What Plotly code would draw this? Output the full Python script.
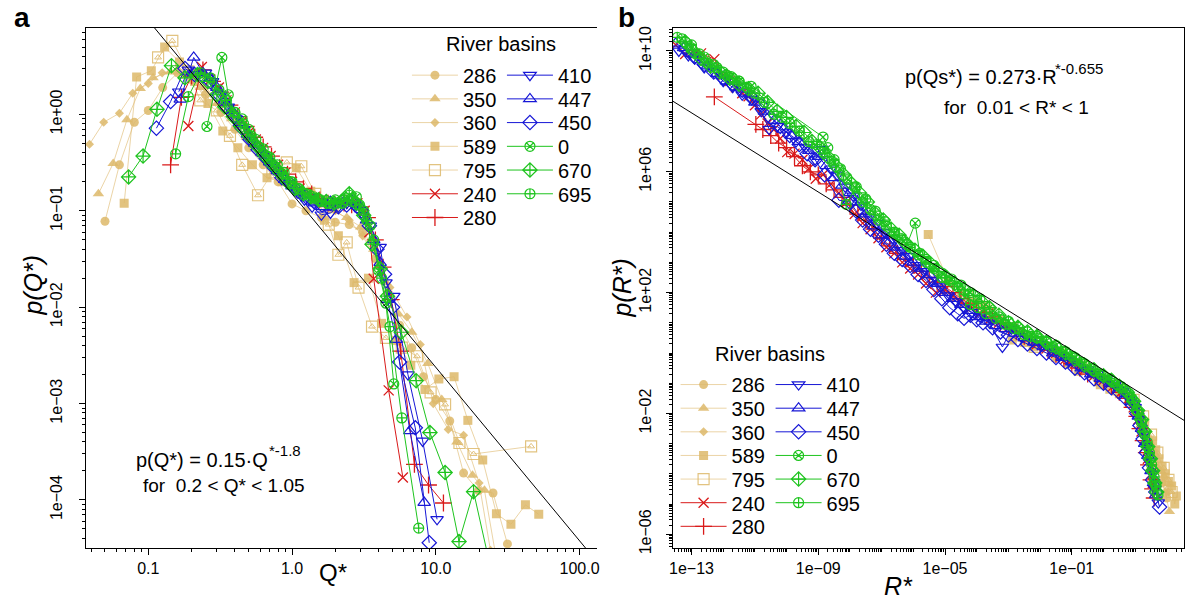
import plotly.graph_objects as go

W, H = 1188, 612
FONT = "Liberation Sans, Arial, Helvetica, sans-serif"

# ---------------- Panel a : p(Q*) vs Q* ----------------
a_Q_286 = [0.05,0.063,0.08,0.10,0.126,0.16,0.2,0.25,0.32,0.4,0.5,0.63,0.8,1.0,1.25,1.6,2.0,2.5,3.1,3.8,4.6,5.6,6.8,8.2,10.0,12.5,15.6,19.8,25.0,31.5]
a_p_286 = [0.078,0.30,0.83,1.1,1.9,2.7,2.3,1.6,1.05,0.7,0.45,0.3,0.2,0.118,0.1,0.085,0.076,0.072,0.06,0.032,0.014,0.0065,0.0038,0.0019,0.0011,0.00066,0.00019,0.000125,0.000118,0.000035]
a_Q_350 = [0.045,0.057,0.071,0.088,0.108,0.142,0.18,0.23,0.3,0.38,0.48,0.6,0.76,0.95,1.2,1.5,1.9,2.4,3.0,3.7,4.5,5.5,6.8,8.8,11.0,14.0,18.0,21.8,27.0]
a_p_350 = [0.15,0.31,0.88,1.86,2.4,2.76,2.5,1.9,1.3,0.9,0.58,0.4,0.27,0.2,0.15,0.12,0.1,0.085,0.068,0.04,0.018,0.0085,0.0055,0.0026,0.0011,0.0004,0.00018,0.000126,0.00002]
a_Q_360 = [0.039,0.049,0.063,0.078,0.1,0.125,0.16,0.2,0.25,0.32,0.4,0.5,0.63,0.8,1.0,1.25,1.6,2.0,2.5,3.1,3.9,4.8,6.3,7.8,9.6,12.2,15.6,20.0,24.0]
a_p_360 = [0.49,0.83,1.03,1.66,2.1,2.7,2.9,2.6,1.9,1.3,0.85,0.55,0.38,0.26,0.18,0.15,0.12,0.1,0.08,0.055,0.03,0.016,0.0079,0.0041,0.001,0.00054,0.00047,0.00015,0.00003]
a_Q_589 = [0.068,0.083,0.105,0.13,0.165,0.21,0.26,0.33,0.42,0.53,0.67,0.85,1.07,1.35,1.68,2.1,2.7,3.4,4.2,5.3,6.7,8.4,10.5,13.4,16.7,21.2,26.4,33.3,42.0,52.0]
a_p_589 = [0.12,2.45,2.84,5.0,3.5,2.2,1.3,0.675,0.45,0.30,0.22,0.2,0.28,0.16,0.08,0.055,0.018,0.020,0.0068,0.0045,0.0025,0.0014,0.0018,0.0019,0.00067,0.00026,0.000072,0.000056,0.000089,0.000071]
a_Q_795 = [0.117,0.147,0.19,0.23,0.3,0.37,0.45,0.58,0.73,0.92,1.16,1.45,1.8,2.1,2.4,2.9,3.6,4.5,5.8,7.4,9.2,11.6,14.6,18.3,46.0]
a_p_795 = [3.9,5.8,2.8,1.4,1.1,0.6,0.30,0.145,0.25,0.318,0.29,0.15,0.072,0.035,0.047,0.016,0.0063,0.0048,0.0038,0.0031,0.00131,0.00098,0.00039,0.00030,0.00036]
a_Q_240 = [0.19,0.236,0.27,0.31,0.35,0.4,0.45,0.5,0.56,0.63,0.71,0.8,0.9,1.0,1.13,1.27,1.43,1.6,1.8,2.0,2.25,2.55,2.85,3.2,3.45,3.7,4.7,5.9]
a_p_240 = [0.76,3.1,2.3,1.9,1.4,1.05,0.85,0.65,0.55,0.45,0.37,0.30,0.25,0.2,0.17,0.15,0.13,0.13,0.12,0.125,0.12,0.13,0.12,0.1,0.06,0.0197,0.00137,0.000171]
a_Q_280 = [0.143,0.17,0.2,0.24,0.28,0.32,0.37,0.42,0.48,0.55,0.63,0.72,0.82,0.93,1.06,1.2,1.37,1.56,1.78,2.0,2.3,2.6,2.95,3.35,3.8,4.3,4.9,5.7,7.1,8.9,11.3]
a_p_280 = [0.30,1.5,2.5,2.9,2.2,1.7,1.25,0.95,0.75,0.58,0.46,0.37,0.28,0.24,0.2,0.17,0.15,0.13,0.12,0.115,0.12,0.115,0.11,0.085,0.05,0.026,0.012,0.0035,0.000234,0.000143,0.000093]
a_Q_410 = [0.163,0.19,0.22,0.25,0.28,0.32,0.36,0.41,0.46,0.52,0.59,0.66,0.75,0.85,0.96,1.08,1.22,1.38,1.6,1.85,2.1,2.4,2.75,3.1,3.5,4.1,4.5,5.1,6.4,8.1,10.2]
a_p_410 = [1.72,2.9,2.6,2.7,2.2,1.6,1.2,0.9,0.7,0.52,0.42,0.33,0.27,0.22,0.19,0.16,0.13,0.11,0.091,0.095,0.11,0.12,0.11,0.09,0.07,0.042,0.018,0.013,0.002,0.00041,0.000063]
a_Q_447 = [0.167,0.207,0.24,0.27,0.3,0.34,0.38,0.43,0.49,0.55,0.62,0.7,0.79,0.89,1.0,1.13,1.27,1.43,1.62,1.83,2.05,2.3,2.6,2.9,3.3,3.7,4.1,4.6,5.3,6.6,8.3]
a_p_447 = [1.43,3.9,2.7,2.4,1.9,1.4,1.1,0.82,0.62,0.5,0.4,0.32,0.26,0.21,0.18,0.155,0.135,0.12,0.11,0.12,0.115,0.125,0.13,0.115,0.08,0.05,0.029,0.012,0.0046,0.00052,0.000094]
a_Q_450 = [0.114,0.143,0.18,0.21,0.24,0.27,0.31,0.35,0.4,0.45,0.51,0.58,0.66,0.75,0.85,0.97,1.1,1.25,1.42,1.62,1.85,2.1,2.4,2.7,3.05,3.45,3.9,4.4,5.0,5.6,7.2,9.0]
a_p_450 = [0.72,1.36,2.99,2.6,2.5,2.2,1.6,1.2,0.95,0.72,0.55,0.43,0.35,0.28,0.22,0.19,0.16,0.14,0.125,0.115,0.12,0.11,0.115,0.12,0.1,0.07,0.04,0.022,0.01,0.0027,0.00056,0.000036]
a_Q_0 = [0.256,0.325,0.36,0.4,0.45,0.5,0.56,0.63,0.7,0.79,0.88,1.0,1.12,1.26,1.41,1.58,1.78,2.0,2.25,2.5,2.8,3.15,3.5,4.0,4.5,5.1]
a_p_0 = [0.75,3.9,1.6,1.05,0.9,0.7,0.55,0.44,0.36,0.3,0.25,0.2,0.17,0.15,0.14,0.13,0.12,0.13,0.12,0.145,0.14,0.1,0.07,0.024,0.011,0.0016]
a_Q_670 = [0.073,0.092,0.115,0.145,0.18,0.22,0.26,0.3,0.34,0.39,0.44,0.5,0.57,0.64,0.72,0.82,0.93,1.05,1.2,1.35,1.53,1.73,1.96,2.2,2.5,2.8,3.15,3.6,4.1,4.6,5.75,7.3,9.1,11.6,14.5,18.3,24.0]
a_p_670 = [0.225,0.37,1.13,3.2,2.4,2.6,2.2,1.6,1.2,0.95,0.75,0.6,0.47,0.38,0.31,0.25,0.2,0.17,0.15,0.14,0.13,0.125,0.12,0.125,0.15,0.12,0.09,0.045,0.025,0.013,0.0055,0.00173,0.0005,0.000193,0.000037,0.000122,0.00002]
a_Q_695 = [0.155,0.19,0.23,0.27,0.31,0.35,0.4,0.46,0.52,0.59,0.67,0.76,0.86,0.98,1.1,1.25,1.42,1.6,1.8,2.05,2.3,2.6,2.95,3.3,3.7,4.2,4.8,5.8,7.6]
a_p_695 = [0.39,1.53,2.7,2.4,1.8,1.4,1.05,0.8,0.6,0.46,0.37,0.29,0.24,0.2,0.17,0.15,0.135,0.125,0.12,0.12,0.13,0.125,0.115,0.08,0.05,0.02,0.0063,0.00071,0.000051]

# ---------------- Panel b : p(R*) vs R*  (values read as log10 exponents) ----------------
b_log10R_286 = [-4.5,-3.8,-3.0,-2.3,-1.6,-0.9,-0.2,0.4,0.9,1.2,1.45,1.65,1.85,2.0]
b_log10p_286 = [2.0,1.6,0.9,0.45,0.05,-0.35,-0.85,-1.15,-1.6,-2.2,-3.0,-3.8,-4.3,-4.8]
b_log10R_350 = [-3.6,-2.8,-2.0,-1.3,-0.6,0.0,0.6,1.0,1.3,1.55,1.8,1.95,2.08]
b_log10p_350 = [1.5,0.8,0.3,-0.1,-0.6,-0.9,-1.3,-1.8,-2.5,-3.2,-3.9,-4.6,-5.25]
b_log10R_360 = [-4.0,-3.2,-2.5,-1.8,-1.1,-0.4,0.2,0.75,1.1,1.4,1.65,1.9,2.05]
b_log10p_360 = [1.7,1.1,0.6,0.25,-0.25,-0.7,-1.0,-1.4,-1.9,-2.6,-3.4,-4.1,-4.6]
b_log10R_589 = [-5.53,-4.9,-4.2,-3.5,-2.88,-2.5,-2.2,-1.5,-1.1,-0.8,-0.1,0.2,0.5,0.8,1.0,1.15,1.3,1.55,1.65,1.75,1.85,1.95,2.05,2.15,2.25,2.3]
b_log10p_589 = [3.92,2.4,1.7,1.1,0.43,0.35,0.2,-0.15,-0.35,-0.6,-1.05,-1.2,-1.35,-1.55,-1.75,-2.0,-2.3,-2.9,-3.2,-3.5,-3.75,-4.0,-4.25,-4.4,-5.0,-4.73]
b_log10R_795 = [-4.3,-3.6,-2.17,-1.4,-0.7,-0.1,0.45,0.95,1.25,1.5,1.7,1.9,2.05,2.15]
b_log10p_795 = [1.9,1.3,0.2,-0.05,-0.45,-0.9,-1.2,-1.55,-2.1,-2.7,-3.3,-3.8,-4.2,-4.6]
b_log10R_240 = [-13.5,-13.2,-12.9,-12.7,-12.28,-12.0,-11.8,-11.6,-11.4,-11.2,-11.0,-10.8,-10.6,-10.4,-10.2,-9.98,-9.75,-9.5,-9.3,-9.08,-8.85,-8.6,-8.35,-8.1,-7.85,-7.6,-7.35,-7.1,-6.85,-6.6,-6.35,-6.1,-5.85,-5.6,-5.29,-5.0,-4.75,-4.5,-4.2,-3.9,-3.6,-3.3,-3.0,-2.7,-2.4,-2.1,-1.8,-1.5,-1.2,-0.9,-0.6,-0.3,0.0,0.3,0.55,0.8,0.95,1.1,1.2,1.3,1.4,1.5,1.56,1.62]
b_log10p_240 = [10.2,9.9,9.9,9.92,9.73,9.21,9.0,8.8,8.6,8.5,8.2,7.9,7.6,7.4,7.1,6.65,6.6,6.4,6.1,5.77,5.9,5.6,5.3,5.0,4.6,4.3,4.1,3.8,3.5,3.3,3.0,2.8,2.6,2.3,2.0,2.1,1.9,1.7,1.5,1.3,1.1,1.0,0.85,0.7,0.5,0.3,0.15,0.0,-0.2,-0.35,-0.55,-0.75,-0.9,-1.1,-1.3,-1.5,-1.8,-2.2,-2.6,-3.1,-3.5,-4.0,-4.3,-4.6]
b_log10R_280 = [-12.28,-10.97,-10.75,-10.5,-10.25,-10.0,-9.75,-9.5,-9.25,-9.0,-8.75,-8.5,-8.25,-8.0,-7.75,-7.5,-7.25,-7.0,-6.75,-6.5,-6.25,-6.0,-5.75,-5.5,-5.25,-5.0,-4.75,-4.5,-4.25,-4.0,-3.75,-3.5,-3.25,-3.0,-2.75,-2.5,-2.25,-2.0,-1.75,-1.5,-1.25,-1.0,-0.75,-0.5,-0.25,0.0,0.25,0.5,0.7,0.9,1.05,1.15,1.25,1.35,1.42,1.5,1.55,1.6]
b_log10p_280 = [8.48,7.57,7.4,7.2,6.95,6.8,6.5,6.2,6.0,5.9,5.6,5.4,5.15,4.9,4.6,4.4,4.1,3.8,3.55,3.3,3.1,2.9,2.7,2.5,2.35,2.2,2.0,1.8,1.65,1.5,1.35,1.2,1.0,0.85,0.7,0.55,0.4,0.25,0.1,-0.05,-0.2,-0.35,-0.5,-0.7,-0.8,-0.95,-1.1,-1.3,-1.5,-1.8,-2.1,-2.5,-2.9,-3.3,-3.7,-4.2,-4.5,-4.8]
b_log10R_410 = [-13.4,-13.1,-12.9,-12.6,-12.3,-12.0,-11.7,-11.4,-11.1,-10.8,-10.55,-10.3,-10.0,-9.7,-9.4,-9.1,-8.88,-8.6,-8.4,-8.15,-7.9,-7.65,-7.4,-7.15,-6.9,-6.65,-6.4,-6.15,-5.9,-5.65,-5.4,-5.15,-4.9,-4.65,-4.4,-4.15,-3.9,-3.6,-3.19,-2.9,-2.6,-2.3,-2.0,-1.7,-1.4,-1.1,-0.8,-0.5,-0.2,0.1,0.35,0.6,0.8,1.0,1.12,1.25,1.35,1.45,1.55,1.62,1.73]
b_log10p_410 = [10.0,9.85,9.75,9.45,9.3,9.0,8.8,8.55,8.4,8.0,7.41,7.5,7.3,7.0,6.8,6.4,6.75,6.1,5.9,5.5,5.2,4.9,4.5,4.3,4.0,3.8,3.4,3.2,2.9,2.7,2.4,2.2,1.9,1.7,1.5,1.35,1.2,1.0,0.2,0.8,0.55,0.45,0.3,0.15,-0.05,-0.25,-0.4,-0.55,-0.7,-0.85,-1.05,-1.25,-1.5,-1.8,-2.2,-2.7,-3.1,-3.6,-4.0,-4.5,-4.95]
b_log10R_447 = [-13.5,-13.25,-13.0,-12.75,-12.5,-12.2,-11.9,-11.6,-11.3,-11.0,-10.7,-10.4,-10.1,-9.85,-9.6,-9.3,-9.0,-8.75,-8.5,-8.25,-8.0,-7.75,-7.5,-7.25,-7.0,-6.75,-6.5,-6.25,-6.0,-5.75,-5.5,-5.25,-5.0,-4.75,-4.5,-4.25,-4.0,-3.7,-3.4,-3.1,-2.8,-2.5,-2.2,-1.9,-1.6,-1.3,-1.0,-0.7,-0.4,-0.1,0.2,0.5,0.75,0.95,1.1,1.2,1.3,1.4,1.5,1.58,1.65]
b_log10p_447 = [10.25,10.1,9.9,9.7,9.5,9.25,9.0,8.8,8.6,8.3,8.0,7.7,7.4,7.2,7.0,6.7,6.5,6.2,5.8,5.55,5.3,5.0,4.6,4.2,3.9,3.7,3.5,3.2,3.0,2.8,2.6,2.3,2.0,1.8,1.6,1.4,1.2,1.05,0.9,0.8,0.65,0.5,0.35,0.2,0.0,-0.15,-0.3,-0.5,-0.7,-0.85,-1.0,-1.15,-1.35,-1.6,-2.1,-2.5,-3.0,-3.4,-3.9,-4.3,-4.7]
b_log10R_450 = [-13.2,-12.9,-12.6,-12.3,-12.0,-11.7,-11.4,-11.1,-10.8,-10.5,-10.2,-9.9,-9.6,-9.35,-9.1,-8.8,-8.35,-8.0,-7.8,-7.6,-7.35,-7.1,-6.85,-6.6,-6.35,-6.1,-5.85,-5.6,-5.35,-5.1,-4.85,-4.6,-4.4,-4.2,-4.0,-3.8,-3.5,-3.25,-3.0,-2.7,-2.4,-2.1,-1.8,-1.5,-1.2,-0.9,-0.6,-0.3,0.0,0.25,0.5,0.7,0.9,1.05,1.15,1.25,1.35,1.45,1.55,1.65,1.77]
b_log10p_450 = [10.1,9.8,9.55,9.3,9.1,8.9,8.7,8.45,8.2,7.8,7.5,7.2,6.9,6.6,6.4,5.9,5.06,5.0,4.7,4.4,4.1,3.9,3.6,3.3,3.1,2.9,2.6,2.4,2.1,1.8,1.5,1.3,1.15,1.25,1.1,1.0,0.84,0.7,0.6,0.45,0.3,0.15,0.0,-0.15,-0.3,-0.5,-0.65,-0.85,-1.0,-1.15,-1.3,-1.5,-1.7,-2.0,-2.4,-2.85,-3.3,-3.8,-4.2,-4.6,-5.1]
b_log10R_0 = [-13.3,-13.0,-12.6,-12.3,-12.0,-11.75,-11.5,-11.12,-8.85,-8.7,-8.5,-8.3,-8.1,-7.85,-7.6,-7.35,-7.1,-6.85,-6.6,-6.4,-6.2,-5.94,-5.8,-5.6,-5.35,-5.1,-4.8,-4.5,-4.2,-3.9,-3.6,-3.3,-3.0,-2.7,-2.4,-2.1,-1.8,-1.5,-1.2,-0.9,-0.6,-0.3,0.0,0.3,0.55,0.8,0.95,1.1,1.2,1.3,1.4,1.48,1.56,1.63]
b_log10p_0 = [10.4,10.1,9.8,9.55,9.3,9.15,9.0,8.83,7.15,6.8,6.3,6.1,5.8,5.5,5.0,4.75,4.4,4.2,3.95,3.8,3.6,4.3,3.3,3.1,2.9,2.65,2.45,2.25,2.0,1.8,1.5,1.2,1.05,0.85,0.7,0.55,0.4,0.25,0.05,-0.15,-0.35,-0.6,-0.75,-0.95,-1.1,-1.35,-1.6,-1.95,-2.3,-2.7,-3.1,-3.5,-3.9,-4.3]
b_log10R_670 = [-13.2,-12.95,-12.7,-12.4,-12.1,-11.8,-11.5,-11.2,-10.9,-10.6,-10.3,-10.0,-9.7,-9.45,-9.2,-8.95,-8.7,-8.45,-8.2,-7.95,-7.7,-7.45,-7.2,-6.95,-6.7,-6.45,-6.2,-5.95,-5.7,-5.45,-5.2,-4.95,-4.7,-4.4,-4.1,-3.85,-3.6,-3.3,-3.0,-2.7,-2.4,-2.1,-1.8,-1.5,-1.2,-0.9,-0.6,-0.3,0.0,0.25,0.5,0.75,0.95,1.08,1.2,1.3,1.4,1.48,1.55,1.62,1.68]
b_log10p_670 = [10.3,10.0,9.75,9.5,9.3,9.1,8.9,8.75,8.6,8.3,8.0,7.8,7.5,7.3,7.0,6.8,6.5,6.2,5.9,5.6,5.3,5.0,4.6,4.4,4.1,3.9,3.6,3.4,3.2,2.95,2.7,2.5,2.3,2.1,1.9,1.7,1.5,1.25,1.0,0.85,0.7,0.55,0.35,0.2,0.0,-0.2,-0.4,-0.55,-0.75,-0.9,-1.1,-1.3,-1.6,-1.9,-2.2,-2.6,-3.1,-3.5,-3.9,-4.3,-4.6]
b_log10R_695 = [-13.45,-13.2,-13.0,-12.75,-12.5,-12.2,-11.9,-11.7,-11.5,-11.25,-11.0,-10.7,-10.4,-10.15,-9.9,-9.6,-9.3,-9.05,-8.8,-8.5,-8.12,-7.8,-7.5,-7.2,-6.9,-6.6,-6.35,-6.1,-5.85,-5.6,-5.35,-5.1,-4.85,-4.6,-4.4,-4.2,-3.95,-3.7,-3.4,-3.1,-2.8,-2.5,-2.3,-2.1,-1.8,-1.6,-1.3,-1.0,-0.7,-0.4,-0.1,0.2,0.45,0.7,0.9,1.05,1.18,1.3,1.38,1.45,1.52,1.6,1.66,1.72]
b_log10p_695 = [10.45,10.3,10.2,9.9,9.6,9.45,9.2,9.1,9.0,8.8,8.6,8.3,7.9,7.8,7.6,7.35,7.0,6.9,6.6,6.4,4.92,5.5,5.1,4.7,4.35,4.0,3.75,3.5,3.25,3.0,2.8,2.5,2.4,2.2,1.95,1.6,1.5,1.3,1.15,0.95,0.8,0.6,0.55,0.5,0.35,0.2,0.05,-0.1,-0.3,-0.5,-0.7,-0.85,-1.05,-1.25,-1.5,-1.9,-2.2,-2.6,-2.95,-3.3,-3.7,-4.1,-4.4,-4.7]

# power-law fits stated on the chart
a_fit_coef, a_fit_exp, a_fit_Q = 0.15, -1.8, [0.02, 300.0]
b_fit_coef, b_fit_exp, b_fit_R = 0.273, -0.655, [1e-14, 1e3]

basins = ["286", "350", "360", "589", "795", "240", "280", "410", "447", "450", "0", "670", "695"]
legend_rows = [("286", "410"), ("350", "447"), ("360", "450"), ("589", "0"),
               ("795", "670"), ("240", "695"), ("280",)]

TAN = "rgba(221,184,106,0.85)"
TAN_LINE = "rgba(221,184,106,0.6)"
RED = "#d91a1a"
BLUE = "#1717d6"
GREEN = "#1ec41e"

style = {
    "286": (TAN, TAN_LINE, "circle", 9, 0),
    "350": (TAN, TAN_LINE, "triangle-up", 10, 0),
    "360": (TAN, TAN_LINE, "diamond", 7, 0),
    "589": (TAN, TAN_LINE, "square", 9, 0),
    "795": (TAN, TAN_LINE, "square-open", 11, 1.2),
    "240": (RED, RED, "x-thin-open", 10, 1.3),
    "280": (RED, RED, "cross-thin-open", 12, 1.3),
    "410": (BLUE, BLUE, "triangle-down-open", 11, 1.2),
    "447": (BLUE, BLUE, "triangle-up-open", 11, 1.2),
    "450": (BLUE, BLUE, "diamond-open", 11, 1.2),
    "0": (GREEN, GREEN, "circle-x-open", 10, 1.2),
    "670": (GREEN, GREEN, "diamond-cross-open", 11, 1.2),
    "695": (GREEN, GREEN, "circle-cross-open", 10, 1.2),
}

def row_of(name):
    for i, r in enumerate(legend_rows):
        if name in r:
            return i
    return 0

g = globals()
fig = go.Figure()

def add_series(xs, ys, name, xa, ya, leg):
    mc, lc, sym, sz, lw = style[name]
    fig.add_trace(go.Scatter(
        x=xs, y=ys, mode="lines+markers", name=name, xaxis=xa, yaxis=ya,
        legend=leg, showlegend=True,
        line=dict(color=lc, width=1),
        marker=dict(symbol=sym, size=sz, color=mc, line=dict(width=lw, color=mc)),
    ))
    if name == "795":
        fig.add_trace(go.Scatter(
            x=xs, y=ys, mode="markers", showlegend=False, xaxis=xa, yaxis=ya,
            marker=dict(symbol="triangle-up-open", size=6, color=mc, line=dict(width=1, color=mc)),
            hoverinfo="skip"))

# panel a  (legends 1..7 : one per legend row)
for nm in basins:
    r = row_of(nm)
    add_series(g["a_Q_" + nm], g["a_p_" + nm], nm, "x", "y", "legend" if r == 0 else "legend%d" % (r + 1))
fig.add_trace(go.Scatter(x=a_fit_Q, y=[a_fit_coef * q ** a_fit_exp for q in a_fit_Q],
                         mode="lines", line=dict(color="black", width=1),
                         showlegend=False, xaxis="x", yaxis="y"))
# panel b  (legends 8..14)
for nm in basins:
    r = row_of(nm)
    add_series([10 ** v for v in g["b_log10R_" + nm]], [10 ** v for v in g["b_log10p_" + nm]],
               nm, "x2", "y2", "legend%d" % (r + 8))
fig.add_trace(go.Scatter(x=b_fit_R, y=[b_fit_coef * r ** b_fit_exp for r in b_fit_R],
                         mode="lines", line=dict(color="black", width=1),
                         showlegend=False, xaxis="x2", yaxis="y2"))

def sup(k):
    s = "%+03d" % k
    return "1e" + s.replace("-", "\u2212")

tickfont = dict(family=FONT, size=16, color="black")
y_dom = [1 - 553.5 / H, 1 - 27 / H]

def minors(lo, hi, with_decades=()):
    v = [m * 10.0 ** k for k in range(lo, hi) for m in range(2, 10)]
    return v + [10.0 ** k for k in with_decades]

a_lab_x = [0.1, 1, 10, 100]
a_lab_y = [-4, -3, -2, -1, 0]
b_lab_x = [-13, -9, -5, -1]
b_lab_y = [-6, -2, 2, 6, 10]

common = dict(type="log", showline=True, linecolor="black", linewidth=1, ticks="outside",
              ticklen=6, tickcolor="black", showgrid=False, zeroline=False, tickfont=tickfont)

fig.update_layout(
    width=W, height=H, margin=dict(l=0, r=0, t=0, b=0, pad=0), autosize=False,
    paper_bgcolor="white", plot_bgcolor="white", font=dict(family=FONT, color="black"),
    xaxis=dict(domain=[83 / W, 597 / W], range=[-1.436, 2.121], anchor="y", mirror=True,
               tickvals=a_lab_x, ticktext=["0.1", "1.0", "10.0", "100.0"],
               minor=dict(tickvals=minors(-2, 3), ticks="outside", ticklen=3, tickcolor="black"),
               **common),
    yaxis=dict(domain=y_dom, range=[-4.5, 0.9], anchor="x", tickangle=-90, ticklabelstandoff=10,
               tickvals=[10.0 ** k for k in a_lab_y], ticktext=[sup(k) for k in a_lab_y],
               minor=dict(tickvals=minors(-5, 1), ticks="outside", ticklen=3, tickcolor="black"),
               **common),
    xaxis2=dict(domain=[673 / W, 1187 / W], range=[-13.597, 2.541], anchor="y2", mirror=True,
                tickvals=[10.0 ** k for k in b_lab_x], ticktext=[sup(k) for k in b_lab_x],
                minor=dict(tickvals=minors(-14, 3, [k for k in range(-14, 3) if k not in b_lab_x]),
                           ticks="outside", ticklen=3, tickcolor="black"),
                **common),
    yaxis2=dict(domain=y_dom, range=[-6.46, 10.77], anchor="x2", mirror=True, tickangle=-90,
                ticklabelstandoff=8,
                tickvals=[10.0 ** k for k in b_lab_y], ticktext=[sup(k) for k in b_lab_y],
                minor=dict(tickvals=minors(-7, 11, [k for k in range(-7, 11) if k not in b_lab_y]),
                           ticks="outside", ticklen=3, tickcolor="black"),
                **common),
)

def leg(xp, yp):
    return dict(x=xp / W, y=1 - yp / H, xanchor="left", yanchor="middle", orientation="h",
                bgcolor="rgba(0,0,0,0)", font=dict(family=FONT, size=20, color="black"),
                itemwidth=46, entrywidth=34, entrywidthmode="pixels",
                tracegroupgap=0, traceorder="normal", borderwidth=0)

legends = {}
for i in range(7):
    ka = "legend" if i == 0 else "legend%d" % (i + 1)
    legends[ka] = leg(406, 75 + 24 * i)
    legends["legend%d" % (i + 8)] = leg(676, 388 + 23.9 * i)
fig.update_layout(**legends)

def ann(txt, xp, yp, size=19, xanchor="center", angle=0, italic=False, bold=False):
    fig.add_annotation(text=txt, x=xp / W, y=1 - yp / H, xref="paper", yref="paper",
                       showarrow=False, xanchor=xanchor, yanchor="middle", textangle=angle,
                       font=dict(family=FONT, size=size, color="black",
                                 style="italic" if italic else "normal",
                                 weight="bold" if bold else "normal"))

ann("a", 19, 17, size=28, bold=True)
ann("b", 627, 17, size=28, bold=True)
ann("River basins", 501, 44, size=20)
ann("River basins", 771, 357, size=20)
ann("p(Q*)", 30, 287, size=25, angle=-90, italic=True)
ann("Q*", 332, 578, size=24)
ann("p(R*)", 622, 290, size=25, angle=-90, italic=True)
ann("R*", 900, 592, size=25, italic=True)
# fit equations (exponent drawn as a raised, smaller text)
ann("p(Q*) = 0.15\u00b7Q", 132, 464, size=20, xanchor="left")
ann("*-1.8", 265, 455, size=15, xanchor="left")
ann("for\u00a0\u00a00.2 &lt; Q* &lt; 1.05", 139, 490, size=19, xanchor="left")
ann("p(Qs*) = 0.273\u00b7R", 905, 77, size=20, xanchor="left")
ann("*-0.655", 1055, 68, size=15, xanchor="left")
ann("for\u00a0\u00a00.01 &lt; R* &lt; 1", 944, 108, size=19, xanchor="left")

fig.write_html("out.html", config={"displayModeBar": False},
               post_script="document.body.style.margin='0px';document.body.style.overflow='hidden';")
